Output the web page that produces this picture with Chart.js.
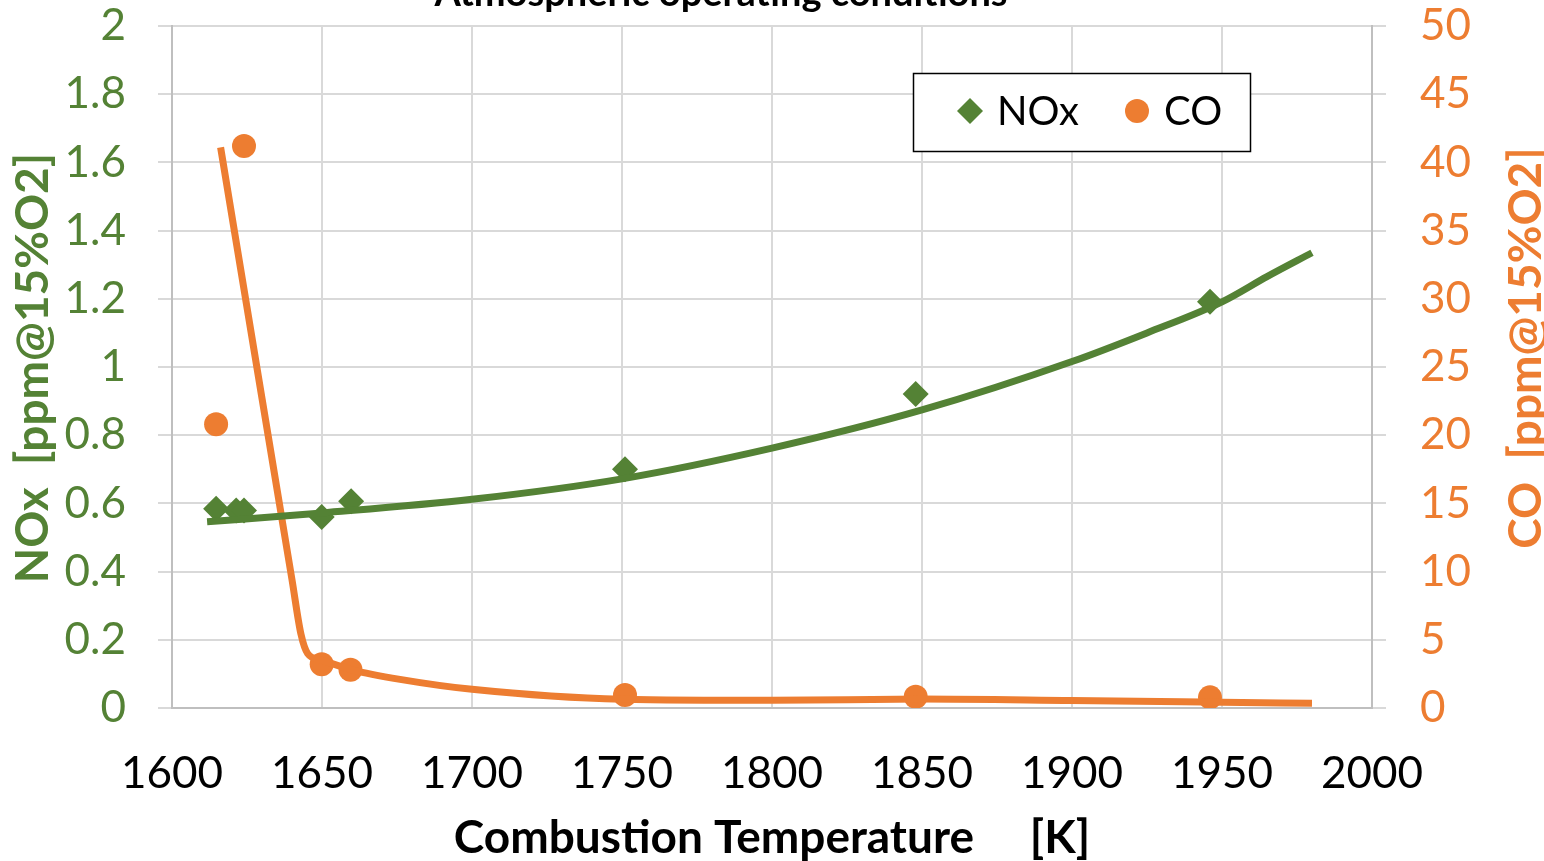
<!DOCTYPE html>
<html>
<head>
<meta charset="utf-8">
<title>Atmospheric operating conditions</title>
<script src="https://cdn.jsdelivr.net/npm/chart.js@4.4.0/dist/chart.umd.min.js"></script>
<style>
  html, body { margin: 0; padding: 0; background: #fff; }
  canvas { display: block; }
</style>
</head>
<body>
<canvas id="emissionsChart" width="1544" height="861"></canvas>
<script>
// measured points
var noxTemp = [1614.7, 1621.4, 1624, 1649.9, 1659.7, 1751, 1847.9, 1946];
var noxValues = [0.584, 0.579, 0.579, 0.560, 0.606, 0.700, 0.921, 1.191];
var coTemp = [1614.7, 1624, 1649.9, 1659.5, 1751, 1847.9, 1946];
var coValues = [20.8, 41.2, 3.2, 2.8, 0.95, 0.83, 0.78];

// trend lines
var noxTrendTemp = [1611.7, 1650, 1700, 1750, 1800, 1850, 1900, 1925, 1950, 1965, 1980];
var noxTrendValues = [0.546, 0.572, 0.612, 0.672, 0.762, 0.874, 1.016, 1.10, 1.191, 1.265, 1.335];
var coTrendTemp = [1616.2, 1630, 1640, 1643, 1645.2, 1650, 1660, 1676, 1700, 1750, 1800, 1850, 1900, 1950, 1980];
var coTrendValues = [41.1, 22.7, 9.4, 5.4, 4.0, 3.5, 2.8, 2.1, 1.37, 0.64, 0.56, 0.66, 0.55, 0.42, 0.34];

var tempTicks = [1600, 1650, 1700, 1750, 1800, 1850, 1900, 1950, 2000];
var noxTicks = [0, 0.2, 0.4, 0.6, 0.8, 1, 1.2, 1.4, 1.6, 1.8, 2];
var coTicks = [0, 5, 10, 15, 20, 25, 30, 35, 40, 45, 50];

var chartTitle = 'Atmospheric operating conditions';
var xTitle = 'Combustion Temperature     [K]';
var noxTitle = 'NOx  [ppm@15%O2]';
var coTitle = 'CO  [ppm@15%O2]';

var green = '#548235';
var orange = '#ED7D31';
var gridColor = '#d9d9d9';

function pairs(xs, ys) {
  var out = [];
  for (var i in xs) {
    out.push({ x: xs[i], y: ys[i] });
  }
  return out;
}

function fixedTicks(values) {
  return function(scale) {
    scale.ticks = values.map(function(v) { return { value: v }; });
  };
}

function fitY(scale) {
  scale.width = 172;
  scale.paddingTop = 0;
  scale.paddingBottom = 0;
}

function fitX(scale) {
  scale.height = 153;
  scale.paddingLeft = 0;
  scale.paddingRight = 0;
}

var textPlugin = {
  id: 'textPlugin',
  afterDraw: function(chart) {
    var ctx = chart.ctx;
    var area = chart.chartArea;
    ctx.save();
    ctx.fillStyle = '#000';
    ctx.textAlign = 'center';

    ctx.font = 'bold 38px Lato';
    ctx.textBaseline = 'alphabetic';
    ctx.fillText(chartTitle, 721, 6);

    ctx.font = 'bold 46px Lato';
    ctx.textBaseline = 'middle';
    ctx.fillText(xTitle, (area.left + area.right) / 2, 838);

    ctx.save();
    ctx.translate(33, 368);
    ctx.rotate(-Math.PI / 2);
    ctx.fillStyle = green;
    ctx.fillText(noxTitle, 0, 0);
    ctx.restore();

    ctx.save();
    ctx.translate(1526, 348);
    ctx.rotate(-Math.PI / 2);
    ctx.fillStyle = orange;
    ctx.fillText(coTitle, 0, 0);
    ctx.restore();

    // legend box
    ctx.fillStyle = '#fff';
    ctx.fillRect(913, 73, 337, 78);
    ctx.strokeStyle = '#000';
    ctx.lineWidth = 1.5;
    ctx.strokeRect(913.5, 73.5, 337, 78);

    ctx.fillStyle = green;
    ctx.beginPath();
    ctx.moveTo(957, 111);
    ctx.lineTo(970, 98);
    ctx.lineTo(983, 111);
    ctx.lineTo(970, 124);
    ctx.closePath();
    ctx.fill();

    ctx.fillStyle = orange;
    ctx.beginPath();
    ctx.arc(1137, 111, 12, 0, Math.PI * 2);
    ctx.fill();

    ctx.fillStyle = '#000';
    ctx.font = '40px Lato';
    ctx.textAlign = 'left';
    ctx.fillText(chart.data.datasets[0].label, 997, 112);
    ctx.fillText(chart.data.datasets[1].label, 1164, 112);
    ctx.restore();
  }
};

function drawEmissionsChart() {
  var ctx = document.getElementById('emissionsChart');

  var chart = new Chart(ctx, {
    type: 'scatter',
    data: {
      datasets: [
        {
          label: 'NOx',
          data: pairs(noxTemp, noxValues),
          yAxisID: 'yNox',
          pointStyle: 'rectRot',
          pointRadius: 13,
          pointBorderWidth: 0,
          backgroundColor: green,
          borderColor: green,
          order: 2
        },
        {
          label: 'CO',
          data: pairs(coTemp, coValues),
          yAxisID: 'yCo',
          pointStyle: 'circle',
          pointRadius: 12,
          pointBorderWidth: 0,
          backgroundColor: orange,
          borderColor: orange,
          order: 2
        },
        {
          label: 'NOx trend',
          data: pairs(noxTrendTemp, noxTrendValues),
          yAxisID: 'yNox',
          showLine: true,
          pointRadius: 0,
          borderColor: green,
          borderWidth: 7,
          cubicInterpolationMode: 'monotone',
          fill: false,
          order: 1
        },
        {
          label: 'CO trend',
          data: pairs(coTrendTemp, coTrendValues),
          yAxisID: 'yCo',
          showLine: true,
          pointRadius: 0,
          borderColor: orange,
          borderWidth: 7,
          cubicInterpolationMode: 'monotone',
          fill: false,
          order: 1
        }
      ]
    },
    options: {
      responsive: false,
      animation: false,
      layout: { padding: { top: 26, left: 0, right: 0, bottom: 0 } },
      plugins: {
        legend: { display: false },
        tooltip: { enabled: false }
      },
      scales: {
        x: {
          type: 'linear',
          min: 1600,
          max: 2000,
          afterBuildTicks: fixedTicks(tempTicks),
          afterFit: fitX,
          grid: { color: gridColor, lineWidth: 2, drawTicks: false },
          border: { color: '#bfbfbf', width: 2 },
          ticks: {
            color: '#000',
            font: { family: 'Lato', size: 44 },
            padding: 39,
            maxRotation: 0,
            callback: function(v) { return String(v); }
          }
        },
        yNox: {
          type: 'linear',
          position: 'left',
          min: 0,
          max: 2,
          afterBuildTicks: fixedTicks(noxTicks),
          afterFit: fitY,
          grid: { color: gridColor, lineWidth: 2, tickLength: 14 },
          border: { color: '#bfbfbf', width: 2 },
          ticks: {
            color: green,
            font: { family: 'Lato', size: 44 },
            padding: 32,
            callback: function(v) { return String(+v.toFixed(1)); }
          }
        },
        yCo: {
          type: 'linear',
          position: 'right',
          min: 0,
          max: 50,
          afterBuildTicks: fixedTicks(coTicks),
          afterFit: fitY,
          grid: { color: gridColor, lineWidth: 2, tickLength: 14, drawOnChartArea: false },
          border: { color: '#bfbfbf', width: 2 },
          ticks: {
            color: orange,
            font: { family: 'Lato', size: 44 },
            padding: 34,
            callback: function(v) { return String(v); }
          }
        }
      }
    },
    plugins: [textPlugin]
  });
}

document.addEventListener('DOMContentLoaded', drawEmissionsChart);
</script>
</body>
</html>
